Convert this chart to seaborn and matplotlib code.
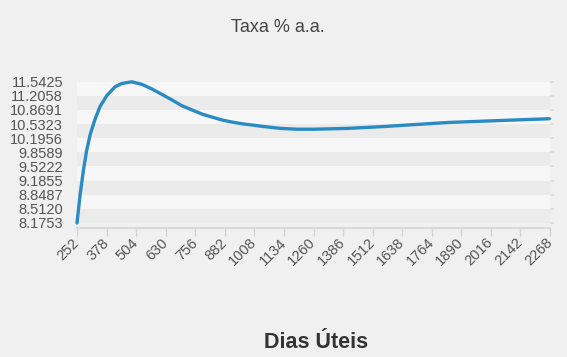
import numpy as np
import pandas as pd
import matplotlib
matplotlib.use('Agg')
import matplotlib.pyplot as plt
import seaborn as sns

# values
dias = [252, 265, 279, 293, 308, 329, 350, 379, 414, 443, 486, 528, 571,
        614, 656, 699, 742, 785, 827, 870, 913, 955, 998, 1055, 1119, 1190,
        1261, 1333, 1404, 1475, 1546, 1689, 1831, 1974, 2116, 2265]
taxa = [8.1753, 8.84, 9.42, 9.90, 10.28, 10.65, 10.95, 11.21, 11.42,
        11.50, 11.54, 11.48, 11.37, 11.24, 11.11, 10.97, 10.87, 10.77, 10.70,
        10.63, 10.58, 10.54, 10.51, 10.47, 10.43, 10.41, 10.41, 10.42, 10.43,
        10.45, 10.47, 10.52, 10.57, 10.60, 10.63, 10.66]

y_ticks = [8.1753, 8.5120, 8.8487, 9.1855, 9.5222, 9.8589, 10.1956, 10.5323,
           10.8691, 11.2058, 11.5425]
x_ticks = list(range(252, 2269, 126))

df = pd.DataFrame({'dias': dias, 'taxa': taxa})

sns.set_theme(style='white')
plt.rcParams['font.family'] = ['Liberation Sans', 'DejaVu Sans']

bg = '#f0f0f0'
fig = plt.figure(figsize=(5.67, 3.57), dpi=100, facecolor=bg)
ax = fig.add_axes([77 / 567, 1 - 228 / 357, (550 - 77) / 567, (228 - 81.7) / 357])
ax.set_facecolor(bg)

# alternating bands between the y ticks
for i in range(len(y_ticks) - 1):
    col = '#ebebeb' if i % 2 == 0 else '#f7f7f7'
    ax.axhspan(y_ticks[i], y_ticks[i + 1], color=col, lw=0, zorder=0)

sns.lineplot(data=df, x='dias', y='taxa', ax=ax, color='#2a8bc4', lw=2.4,
             clip_on=False, zorder=3)
ax.lines[-1].set_solid_joinstyle('round')

ax.set_xlim(252, 2268)
ax.set_ylim(8.056, 11.5425)
ax.set_xticks(x_ticks)
ax.set_yticks(y_ticks)
ax.set_yticklabels([f'{v:.4f}' for v in y_ticks])
ax.set_xlabel('')
ax.set_ylabel('')

for s in ['top', 'right', 'left']:
    ax.spines[s].set_visible(False)
ax.spines['bottom'].set_color('#dadada')
ax.spines['bottom'].set_linewidth(1.5)

ax.tick_params(axis='y', which='major', right=True, left=False, length=3,
               color='#dcdcdc', labelright=False, labelleft=True, pad=7,
               labelsize=10.5, labelcolor='#555555')
ax.tick_params(axis='x', bottom=True, length=6, width=1, color='#d4d4d4',
               pad=3, labelsize=10.5, labelcolor='#555555')
for lab in ax.get_xticklabels():
    lab.set_rotation(45)
    lab.set_ha('right')
    lab.set_va('center')
    lab.set_rotation_mode('anchor')

fig.text(278 / 567, 1 - 28 / 357, 'Taxa % a.a.', ha='center', va='center',
         fontsize=13, color='#444444')
fig.text(316 / 567, 1 - 343 / 357, 'Dias Úteis', ha='center', va='center',
         fontsize=15.5, fontweight='bold', color='#333333')

fig.savefig('out.png', dpi=100, facecolor=bg)
